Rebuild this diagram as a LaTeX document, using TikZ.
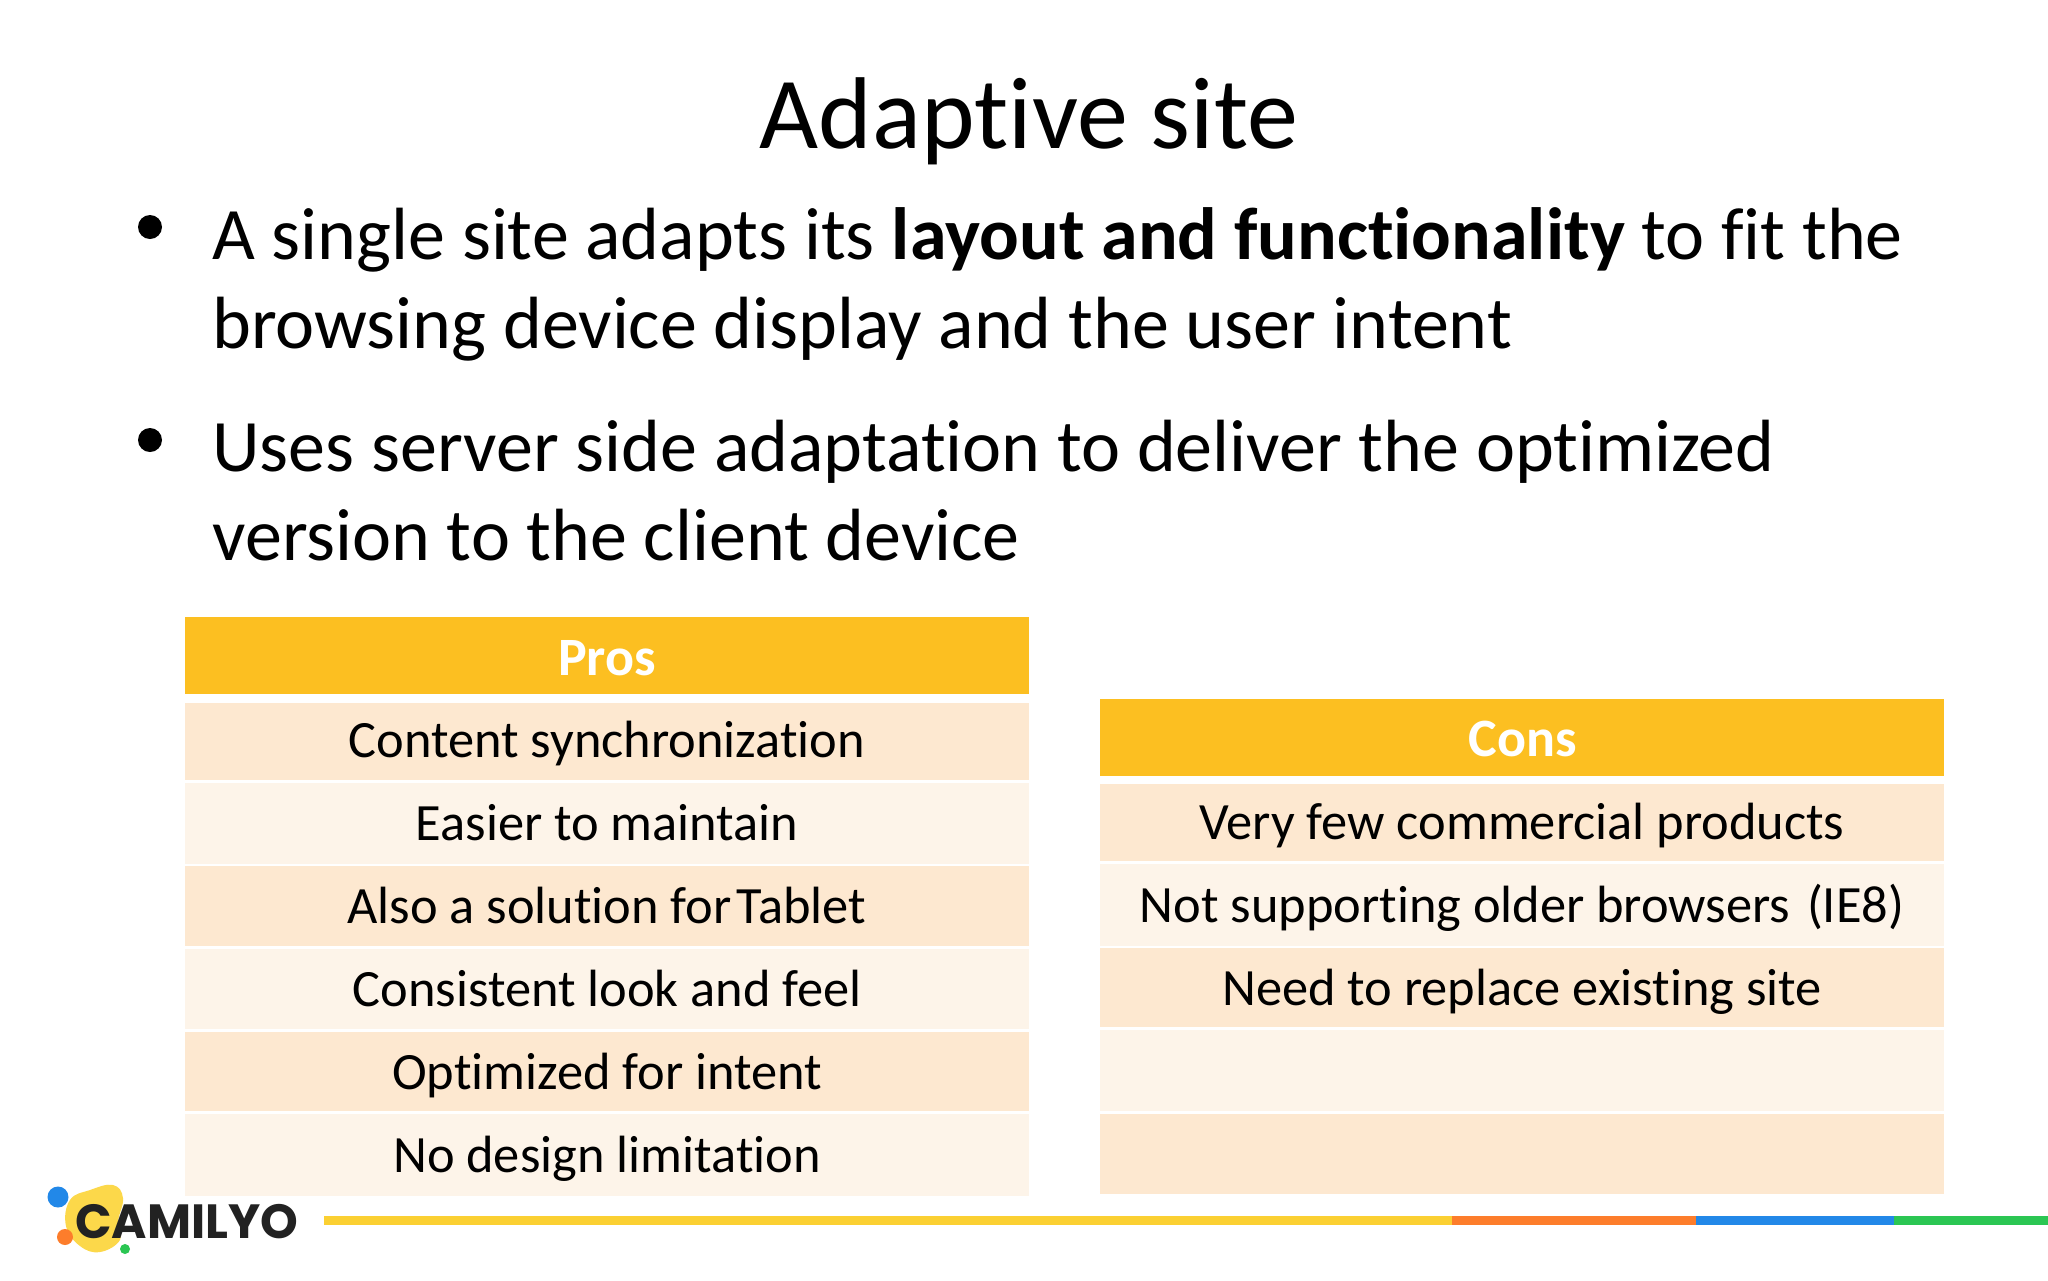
\documentclass[tikz,border=0pt]{standalone}
\usepackage{fontspec}
\setmainfont{Carlito}[Ligatures=NoCommon]
\newfontfamily\logofont{Poppins}
\definecolor{hdr}{HTML}{FCBF21}
\definecolor{rowa}{HTML}{FDE8D0}
\definecolor{rowb}{HTML}{FDF4E9}
\definecolor{barY}{HTML}{FBD032}
\definecolor{barO}{HTML}{FD7D2B}
\definecolor{barB}{HTML}{2288E8}
\definecolor{barG}{HTML}{2BC653}
\definecolor{logoY}{HTML}{FCD84A}
\definecolor{logoK}{HTML}{222222}
\tikzset{
  title/.style={anchor=base,inner sep=0pt,font=\fontsize{51}{60}\selectfont},
  body/.style={anchor=base west,inner sep=0pt,font=\fontsize{37}{40}\selectfont},
  cell/.style={anchor=base,inner sep=0pt,font=\fontsize{26.2}{30}\selectfont},
  headtxt/.style={anchor=base,inner sep=0pt,text=white,font=\fontsize{27}{30}\selectfont\bfseries},
  bulletdot/.style={fill=black,draw=none},
}
\begin{document}
\begin{tikzpicture}[x=0.5pt,y=-0.5pt]
\useasboundingbox (0,0) rectangle (2048,1280);
\fill[white] (0,0) rectangle (2048,1280);
% title
\node[title] (ttl) at (1029,148) {Adaptive site};
% bullets
\fill[bulletdot] (150,227) circle (12);
\fill[bulletdot] (150,440) circle (12);
\node[body] (b1a) at (212,259) {A single site adapts its \textbf{layout and functionality} to fit the};
\node[body] (b1b) at (212,348) {browsing device display and the user intent};
\node[body] (b2a) at (212,471) {Uses server side adaptation to deliver the optimized};
\node[body] (b2b) at (212,560) {version to the client device};
% left table
\fill[hdr]  (185,617) rectangle (1029,694);
\fill[rowa] (185,703) rectangle (1029,780);
\fill[rowb] (185,783) rectangle (1029,864);
\fill[rowa] (185,866) rectangle (1029,946);
\fill[rowb] (185,949) rectangle (1029,1029);
\fill[rowa] (185,1032) rectangle (1029,1111);
\fill[rowb] (185,1114) rectangle (1029,1196);
\node[headtxt] (p0) at (607,675) {Pros};
\node[cell] (p1) at (607,757) {Content synchronization};
\node[cell] (p2) at (607,840) {Easier to maintain};
\node[cell] (p3) at (607,923) {Also a solution for\hspace{0.1em}Tablet};
\node[cell] (p4) at (607,1006) {Consistent look and feel};
\node[cell] (p5) at (607,1089) {Optimized for intent};
\node[cell] (p6) at (607,1172) {No design limitation};
% right table
\fill[hdr]  (1100,699) rectangle (1944,776);
\fill[rowa] (1100,784) rectangle (1944,861);
\fill[rowb] (1100,864) rectangle (1944,946);
\fill[rowa] (1100,948) rectangle (1944,1027);
\fill[rowb] (1100,1030) rectangle (1944,1111);
\fill[rowa] (1100,1114) rectangle (1944,1194);
\node[headtxt] (c0) at (1523,756) {Cons};
\node[cell] (c1) at (1522,839) {Very few commercial products};
\node[cell] (c2) at (1522,922) {Not supporting older browsers\hspace{0.32em}(IE8)};
\node[cell] (c3) at (1522,1005) {Need to replace existing site};
% bottom bar
\fill[barY] (324,1216) rectangle (1452,1225);
\fill[barO] (1452,1216) rectangle (1696,1225);
\fill[barB] (1696,1216) rectangle (1894,1225);
\fill[barG] (1894,1216) rectangle (2048,1225);
% logo
\fill[logoY] plot[smooth cycle,tension=0.7] coordinates {(113,1185) (123,1198) (118,1222) (120,1240) (100,1252) (80,1246) (66,1226) (70,1200) (90,1190)};
\fill[barB] (58,1197) circle (10.5);
\fill[barO] (65,1237) circle (8);
\fill[barG] (125,1249) circle (5);
\node[anchor=base west,inner sep=0pt,text=logoK,font=\logofont\fontsize{24}{30}\selectfont\bfseries] (logo) at (75,1238) {CAMILYO};
\end{tikzpicture}
\end{document}
